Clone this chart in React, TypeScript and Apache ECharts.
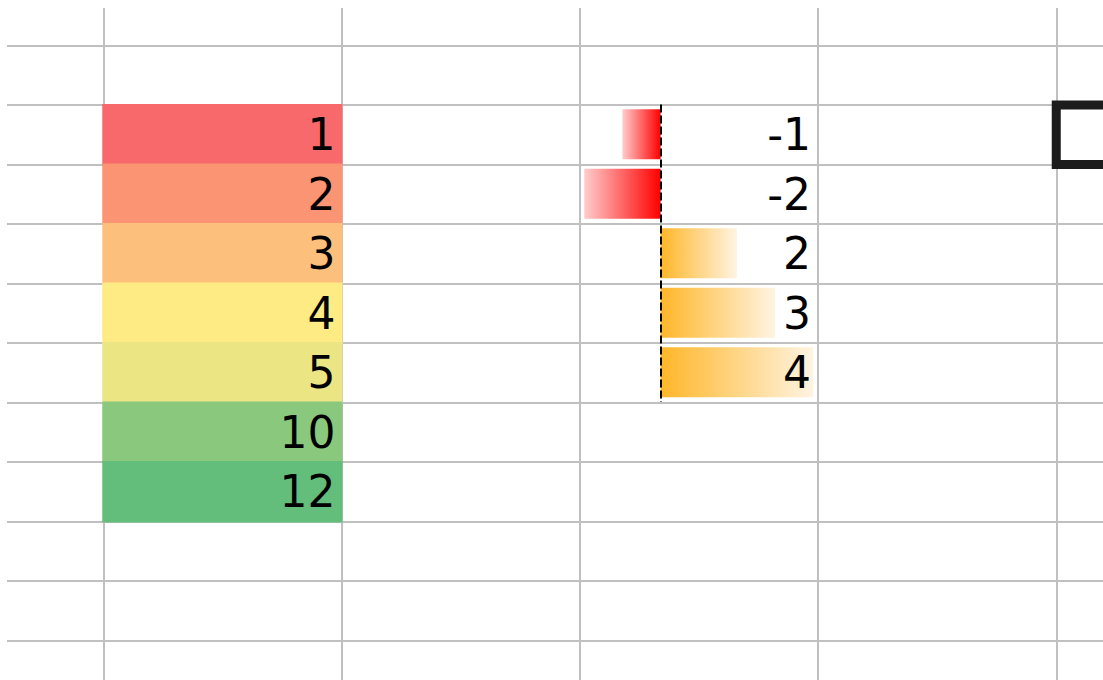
import React, { useEffect, useRef } from "react";
import * as echarts from "echarts";

// Color-scale column (column B, rows 2..8)
const scaleValues: number[] = [1, 2, 3, 4, 5, 10, 12];
// Data-bar column (column D, rows 2..6)
const barValues: number[] = [-1, -2, 2, 3, 4];
const barMin = -2;
const barMax = 4;
// Selected cell (column F, row 2)
const selectedCell: number[] = [5, 2];

const SCALE_COL = 1;
const BAR_COL = 3;
const FIRST_ROW = 2;

const LOW = [0xf8, 0x69, 0x6b];
const MID = [0xff, 0xeb, 0x84];
const HIGH = [0x63, 0xbe, 0x7b];

function percentile(arr: number[], p: number) {
  const s = [...arr].sort((a, b) => a - b);
  const r = (s.length - 1) * p;
  const lo = Math.floor(r);
  const hi = Math.ceil(r);
  return s[lo] + (s[hi] - s[lo]) * (r - lo);
}
function mix(a: number[], b: number[], t: number) {
  const c = a.map((v, i) => Math.round(v + (b[i] - v) * t));
  return `rgb(${c[0]},${c[1]},${c[2]})`;
}
function scaleColor(v: number) {
  const mn = Math.min(...scaleValues);
  const mx = Math.max(...scaleValues);
  const md = percentile(scaleValues, 0.5);
  if (v <= md) return mix(LOW, MID, md === mn ? 0 : (v - mn) / (md - mn));
  return mix(MID, HIGH, (v - md) / (mx - md));
}

const FONT = "DejaVu Sans";
const FONT_SIZE = 44;
const TEXT_PAD = 6;

const COL_W = 238.25;
const ROW_H = 59.5;
const OFF_X = COL_W - 96; // hidden part of the first column
const OFF_Y = ROW_H - 37; // hidden part of the first row

export default function App() {
  const ref = useRef<HTMLDivElement>(null);
  useEffect(() => {
    if (!ref.current) return;
    const chart = echarts.init(ref.current, null, { renderer: "svg" });
    const gridLine = { show: true, lineStyle: { color: "#c0c0c0", width: 2 } };
    const option: any = {
      animation: false,
      grid: [
        { left: 0, top: 0, width: COL_W * 6, height: ROW_H * 12 },
        { left: 577 + OFF_X, top: 96 + OFF_Y, width: 229, height: ROW_H * barValues.length },
      ],
      xAxis: [
        {
          gridIndex: 0, type: "value", min: 0, max: 6, interval: 1,
          axisLine: { show: false }, axisTick: { show: false }, axisLabel: { show: false },
          splitLine: gridLine,
        },
        { gridIndex: 1, type: "value", min: barMin, max: barMax, show: false },
      ],
      yAxis: [
        {
          gridIndex: 0, type: "value", min: 0, max: 12, interval: 1, inverse: true,
          axisLine: { show: false }, axisTick: { show: false }, axisLabel: { show: false },
          splitLine: gridLine,
        },
        {
          gridIndex: 1, type: "category", inverse: true, show: false,
          data: barValues.map((_, i) => String(FIRST_ROW + i)),
        },
      ],
      series: [
        {
          type: "custom",
          xAxisIndex: 0, yAxisIndex: 0,
          data: scaleValues.map((v, i) => [SCALE_COL, FIRST_ROW + i, v]),
          renderItem: (params: any, api: any) => {
            const c = api.value(0), r = api.value(1), v = api.value(2);
            const p0 = api.coord([c, r]);
            const p1 = api.coord([c + 1, r + 1]);
            return {
              type: "group",
              children: [
                {
                  type: "rect",
                  shape: { x: p0[0] - 1, y: p0[1] - 1, width: p1[0] - p0[0] + 2, height: p1[1] - p0[1] + 2 },
                  style: { fill: scaleColor(v) },
                },
                {
                  type: "text",
                  x: p1[0] - TEXT_PAD, y: (p0[1] + p1[1]) / 2,
                  style: {
                    text: String(v), fill: "#000", fontFamily: FONT, fontSize: FONT_SIZE,
                    align: "right", verticalAlign: "middle",
                  },
                },
              ],
            };
          },
        },
        {
          type: "bar",
          xAxisIndex: 1, yAxisIndex: 1,
          barWidth: 50,
          data: barValues.map((v) => ({
            value: v,
            itemStyle: {
              color: new echarts.graphic.LinearGradient(0, 0, 1, 0,
                v < 0
                  ? [{ offset: 0, color: "#ffcccc" }, { offset: 1, color: "#ff0000" }]
                  : [{ offset: 0, color: "#ffb628" }, { offset: 1, color: "#fff4e2" }]),
            },
          })),
          markLine: {
            silent: true, symbol: "none",
            label: { show: false },
            lineStyle: { color: "#000", type: [8, 3], width: 2 },
            data: [{ xAxis: 0 }],
          },
        },
        {
          type: "custom",
          xAxisIndex: 0, yAxisIndex: 0, z: 5,
          data: barValues.map((v, i) => [BAR_COL, FIRST_ROW + i, v]),
          renderItem: (params: any, api: any) => {
            const c = api.value(0), r = api.value(1), v = api.value(2);
            const p0 = api.coord([c, r]);
            const p1 = api.coord([c + 1, r + 1]);
            return {
              type: "text",
              x: p1[0] - TEXT_PAD - 1, y: (p0[1] + p1[1]) / 2,
              style: {
                text: String(v), fill: "#000", fontFamily: FONT, fontSize: FONT_SIZE,
                align: "right", verticalAlign: "middle",
              },
            };
          },
        },
        {
          type: "custom",
          xAxisIndex: 0, yAxisIndex: 0, z: 6,
          data: [selectedCell],
          renderItem: (params: any, api: any) => {
            const c = api.value(0), r = api.value(1);
            const p0 = api.coord([c, r]);
            const p1 = api.coord([c + 1, r + 1]);
            return {
              type: "rect",
              shape: { x: p0[0], y: p0[1], width: p1[0] - p0[0], height: p1[1] - p0[1] },
              style: { fill: "none", stroke: "#1c1c1c", lineWidth: 9 },
            };
          },
        },
      ],
    };
    chart.setOption(option);
    return () => chart.dispose();
  }, []);
  return (
    <div
      style={{ position: "absolute", left: 7, top: 8, width: 1096, height: 672, overflow: "hidden", background: "#fff" }}
    >
      <div
        ref={ref}
        style={{ position: "absolute", left: -OFF_X, top: -OFF_Y, width: COL_W * 6, height: ROW_H * 12 }}
      />
    </div>
  );
}
